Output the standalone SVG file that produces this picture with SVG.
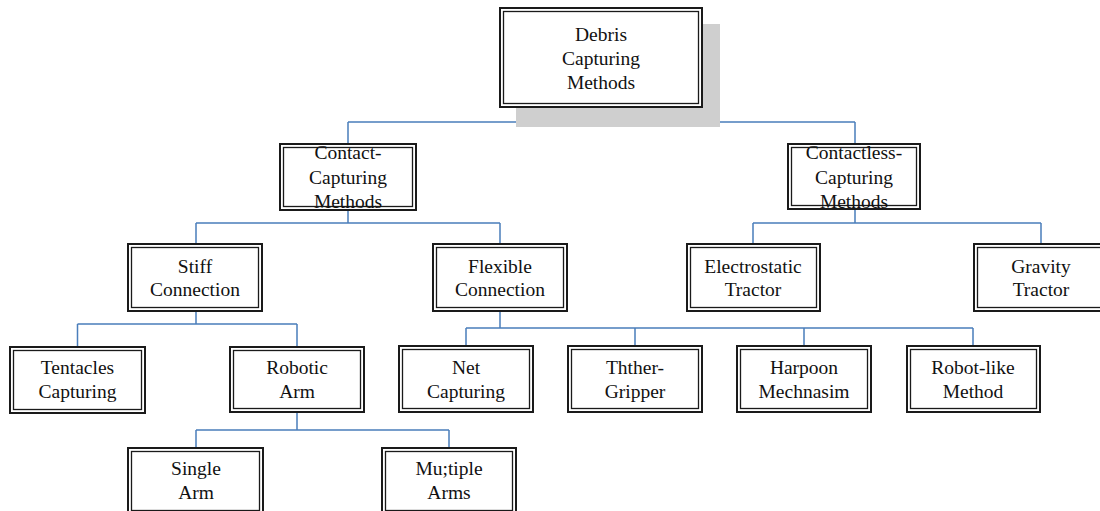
<svg xmlns="http://www.w3.org/2000/svg" width="1100" height="511" viewBox="0 0 1100 511">
<style>
.o{fill:#fff;stroke:#1a1a1a;stroke-width:2}
.i{fill:none;stroke:#1a1a1a;stroke-width:1.3}
.t{font-family:'Liberation Serif','Times New Roman',Times,serif;font-size:19.5px;fill:#111;text-anchor:middle}
.c{fill:none;stroke:#4a7ebb;stroke-width:1.5}
</style>
<rect width="1100" height="511" fill="#fff"/>
<g id="connectors">
<path class="c" d="M601 108V122M348 122H855M348 122V143M855 122V143"/>
<path class="c" d="M348 211V223M196 223H500M196 223V243M500 223V243"/>
<path class="c" d="M855 210V223M753 223H1041M753 223V243M1041 223V243"/>
<path class="c" d="M196 312V324M77.5 324H297M77.5 324V346M297 324V346"/>
<path class="c" d="M500 312V328M466 328H973M466 328V345M635 328V345M804 328V345M973 328V345"/>
<path class="c" d="M297 413V430M196 430H449M196 430V447M449 430V447"/>
</g>
<g id="root">
<rect x="516" y="24" width="204" height="103" fill="#cfcfcf"/>
<rect class="o" x="500" y="8" width="202" height="99"/>
<rect class="i" x="503.5" y="11.5" width="195" height="92"/>
<text class="t" x="601" y="41">Debris</text>
<text class="t" x="601" y="65">Capturing</text>
<text class="t" x="601" y="89">Methods</text>
</g>
<g id="contact">
<rect class="o" x="280" y="144" width="136" height="66"/>
<rect class="i" x="283.5" y="147.5" width="129" height="59"/>
<text class="t" x="348" y="159">Contact-</text>
<text class="t" x="348" y="184">Capturing</text>
<text class="t" x="348" y="208">Methods</text>
</g>
<g id="contactless">
<rect class="o" x="788" y="144" width="132" height="65"/>
<rect class="i" x="791.5" y="147.5" width="125" height="58"/>
<text class="t" x="854" y="159">Contactless-</text>
<text class="t" x="854" y="184">Capturing</text>
<text class="t" x="854" y="208">Methods</text>
</g>
<g id="stiff">
<rect class="o" x="128" y="244" width="134" height="67"/>
<rect class="i" x="131.5" y="247.5" width="127" height="60"/>
<text class="t" x="195" y="273">Stiff</text>
<text class="t" x="195" y="296">Connection</text>
</g>
<g id="flexible">
<rect class="o" x="433" y="244" width="134" height="67"/>
<rect class="i" x="436.5" y="247.5" width="127" height="60"/>
<text class="t" x="500" y="273">Flexible</text>
<text class="t" x="500" y="296">Connection</text>
</g>
<g id="electrostatic">
<rect class="o" x="687" y="244" width="133" height="67"/>
<rect class="i" x="690.5" y="247.5" width="126" height="60"/>
<text class="t" x="753" y="273">Electrostatic</text>
<text class="t" x="753" y="296">Tractor</text>
</g>
<g id="gravity">
<rect class="o" x="974" y="244" width="134" height="67"/>
<rect class="i" x="977.5" y="247.5" width="127" height="60"/>
<text class="t" x="1041" y="273">Gravity</text>
<text class="t" x="1041" y="296">Tractor</text>
</g>
<g id="tentacles">
<rect class="o" x="10" y="347" width="135" height="66"/>
<rect class="i" x="13.5" y="350.5" width="128" height="59"/>
<text class="t" x="77.5" y="374">Tentacles</text>
<text class="t" x="77.5" y="398">Capturing</text>
</g>
<g id="robotic">
<rect class="o" x="230" y="347" width="134" height="65"/>
<rect class="i" x="233.5" y="350.5" width="127" height="58"/>
<text class="t" x="297" y="374">Robotic</text>
<text class="t" x="297" y="398">Arm</text>
</g>
<g id="net">
<rect class="o" x="399" y="346" width="134" height="66"/>
<rect class="i" x="402.5" y="349.5" width="127" height="59"/>
<text class="t" x="466" y="374">Net</text>
<text class="t" x="466" y="398">Capturing</text>
</g>
<g id="thther">
<rect class="o" x="568" y="346" width="134" height="66"/>
<rect class="i" x="571.5" y="349.5" width="127" height="59"/>
<text class="t" x="635" y="374">Thther-</text>
<text class="t" x="635" y="398">Gripper</text>
</g>
<g id="harpoon">
<rect class="o" x="737" y="346" width="134" height="66"/>
<rect class="i" x="740.5" y="349.5" width="127" height="59"/>
<text class="t" x="804" y="374">Harpoon</text>
<text class="t" x="804" y="398">Mechnasim</text>
</g>
<g id="robotlike">
<rect class="o" x="907" y="346" width="133" height="66"/>
<rect class="i" x="910.5" y="349.5" width="126" height="59"/>
<text class="t" x="973" y="374">Robot-like</text>
<text class="t" x="973" y="398">Method</text>
</g>
<g id="single">
<rect class="o" x="128" y="448" width="135" height="66"/>
<rect class="i" x="131.5" y="451.5" width="128" height="59"/>
<text class="t" x="196" y="475">Single</text>
<text class="t" x="196" y="499">Arm</text>
</g>
<g id="multiple">
<rect class="o" x="382" y="448" width="134" height="66"/>
<rect class="i" x="385.5" y="451.5" width="127" height="59"/>
<text class="t" x="449" y="475">Mu;tiple</text>
<text class="t" x="449" y="499">Arms</text>
</g>
</svg>
